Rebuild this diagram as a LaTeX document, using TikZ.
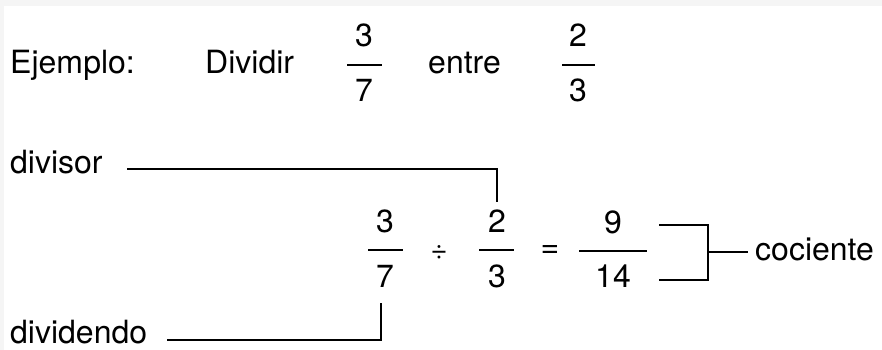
\documentclass[tikz,border=0pt]{standalone}
\usepackage{fontspec}
\setmainfont{TeX Gyre Heros}

\begin{document}
\begin{tikzpicture}[x=1pt,y=-1pt,
        txt/.style={inner sep=0pt, anchor=base west, font=\fontsize{32}{38}\selectfont},
        dig/.style={inner sep=0pt, anchor=base, font=\fontsize{32}{38}\selectfont},
        bar/.style={line width=2.4pt},
        lead/.style={line width=2.5pt}]
    \useasboundingbox (0,0) rectangle (882,350);
    \fill[black!4] (0,0) rectangle (882,350);
    \fill[white] (4,6) rectangle (882,350);
        %first row
            \node[txt] (ejemplo) at (10,74) {Ejemplo:};
            \node[txt] (dividir) at (205,74) {Dividir};
            \node[txt] (entre) at (428,74) {entre};
        %fractions, first row
            \node[dig] (numa) at (364,47) {3};
            \node[dig] (dena) at (364,102) {7};
            \draw[bar] (347,65) -- (382,65);
            \node[dig] (numb) at (578,47) {2};
            \node[dig] (denb) at (578,102) {3};
            \draw[bar] (562,65) -- (595,65);
        %second row
            \node[txt] (divisor) at (10,173) {divisor};
            \node[txt] (dividendo) at (10,343) {dividendo};
            \node[txt] (cociente) at (755,260) {cociente};
        %fractions, second row
            \node[dig] (numc) at (385,232) {3};
            \node[dig] (denc) at (385,287) {7};
            \draw[bar] (368,250) -- (403,250);
            \node[dig, font=\fontsize{29}{34}\selectfont, anchor=center] (divsign) at (439,252) {÷};
            \node[dig] (numd) at (497,232) {2};
            \node[dig] (dend) at (497,287) {3};
            \draw[bar] (479,250) -- (514,250);
            \node[dig, anchor=center] (eqsign) at (550,251) {=};
            \node[dig] (nume) at (613,233) {9};
            \node[dig] (dene) at (613,287) {14};
            \draw[bar] (579,251) -- (647,251);
        % lines
            \coordinate (divisorend) at (127,169);
            \coordinate (divisortip) at (497,202);
            \draw[lead] (divisorend) -| (divisortip);
            \coordinate (dividendoend) at (167,340);
            \coordinate (dividendotip) at (381,303);
            \draw[lead] (dividendoend) -| (dividendotip);
            \coordinate (cocup) at (659,225);
            \coordinate (cocdown) at (659,280);
            \coordinate (cocmid) at (708,252);
            \draw[lead] (cocup) -- (708,225) -- (708,280) -- (cocdown);
            \draw[lead] (cocmid) -- ([xshift=-7pt]cociente.west |- cocmid);
\end{tikzpicture}
\end{document}
